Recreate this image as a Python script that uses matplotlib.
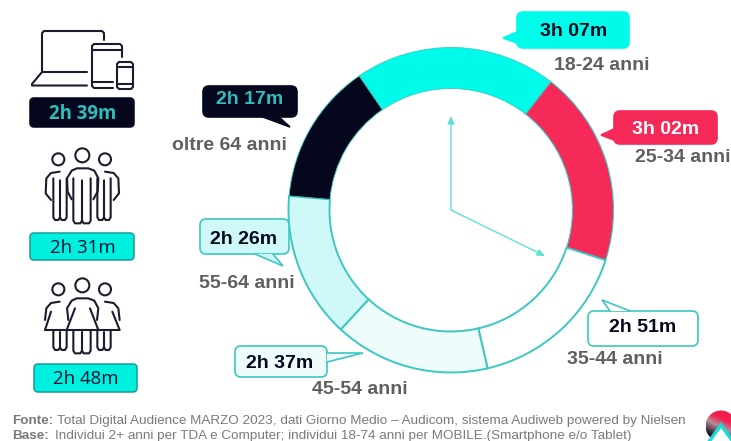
import matplotlib
matplotlib.use("Agg")

import matplotlib.pyplot as plt
import numpy as np
from matplotlib.patches import Circle, FancyBboxPatch, Polygon

W, H = 731, 441

# ring, clockwise from the cyan slice; spans are degrees
age_labels = ["18-24 anni", "25-34 anni", "35-44 anni", "45-54 anni", "55-64 anni", "oltre 64 anni"]
time_labels = ["3h 07m", "3h 02m", "2h 51m", "2h 37m", "2h 26m", "2h 17m"]
arc_spans = [72.3, 70.1, 59.0, 55.7, 52.3, 50.6]
ring_colors = ["#00FBEA", "#F52A58", "#FFFFFF", "#EEFCFC", "#CFF8F8", "#05081C"]

# left column
device_labels = ["2h 39m", "2h 31m", "2h 48m"]

TEAL = "#3CC8C0"
DARK = "#05081C"
GREY = "#5F5F5F"
ICON = "#1A1D2E"
FOOT = "#7A7A7A"


def Y(py):
    # picture rows run downwards, the axes upwards
    return H - py


fig = plt.figure(figsize=(W / 100, H / 100), dpi=100)
ax = fig.add_axes([0, 0, 1, 1])

wedges, _ = ax.pie(arc_spans, colors=ring_colors, center=(451, Y(210)), radius=162.5,
                   startangle=124.4, counterclock=False, frame=False,
                   wedgeprops=dict(width=41, edgecolor=TEAL, linewidth=1.4))
# the filled slices have hardly any visible outline on their straight sides
wedges[0].set_linewidth(0.6)
wedges[1].set_linewidth(0.8)
wedges[5].set_linewidth(0.6)
ax.set_xlim(0, W)
ax.set_ylim(0, H)
ax.set_aspect("equal")
ax.axis("off")


def label(x, y, s, **kw):
    kw.setdefault("family", "Liberation Sans")
    kw.setdefault("ha", "center")
    kw.setdefault("va", "center")
    ax.text(x, Y(y), s, **kw)


def callout(x0, y0, x1, y1, tail, face, edge):
    box = FancyBboxPatch((x0 + 5, Y(y1) + 5), x1 - x0 - 10, y1 - y0 - 10,
                         boxstyle="round,pad=5,rounding_size=6",
                         fc=face, ec=edge, lw=1.2, zorder=4)
    ax.add_patch(box)
    pts = [(x, Y(y)) for x, y in tail]
    ax.add_patch(Polygon(pts, closed=True, fc=face, ec="none", zorder=5))
    ax.plot([p[0] for p in pts], [p[1] for p in pts], color=edge, lw=1.2,
            solid_joinstyle="miter", zorder=5)


# clock hands
for tip in [(451, 116), (545, 256)]:
    ax.annotate("", xy=(tip[0], Y(tip[1])), xytext=(451, Y(210)),
                arrowprops=dict(arrowstyle="-|>,head_length=0.45,head_width=0.2",
                                color="#5FE0D8", lw=1.0, shrinkA=0, shrinkB=0))

# callouts, same order as the slices
callout(517, 12, 629, 48, [(517, 32), (503, 38), (517, 43)], "#00FBEA", "#00FBEA")
callout(614, 111, 717, 144, [(614, 129), (601, 135), (614, 140)], "#F52A58", "#F52A58")
callout(588, 311, 698, 346, [(630, 311), (602, 300), (610, 311)], "white", TEAL)
callout(235, 346, 327, 377, [(327, 353), (363, 353), (327, 362)], "#EEFCFC", TEAL)
callout(200, 219, 289, 254, [(255, 254), (283, 266), (273, 254)], "#CFF8F8", TEAL)
callout(203, 86, 297, 117, [(263, 117), (290, 127), (279, 117)], DARK, DARK)

time_pos = [(574, 32), (666, 129), (643, 327), (280, 364), (244, 239), (250, 99)]
time_cols = [DARK, "white", DARK, DARK, DARK, "#2FBDBD"]
age_pos = [(602, 66), (683, 158), (615, 359), (360, 390), (247, 283), (229, 146)]
for i in range(6):
    label(*time_pos[i], time_labels[i], fontsize=14, fontweight="bold",
          color=time_cols[i], zorder=6)
    label(*age_pos[i], age_labels[i], fontsize=14, fontweight="bold", color=GREY)

# left column boxes
for (x0, y0, x1, y1), s, face, edge, col, wt in [
        ((30, 98, 134, 127), device_labels[0], DARK, DARK, "#2FBDBD", "bold"),
        ((30, 233, 134, 260), device_labels[1], "#00F0E0", "#1F9A94", "#0A1030", "normal"),
        ((34, 364, 137, 392), device_labels[2], "#00F0E0", "#1F9A94", "#0A1030", "normal")]:
    ax.add_patch(FancyBboxPatch((x0 + 4, Y(y1) + 4), x1 - x0 - 8, y1 - y0 - 8,
                                boxstyle="round,pad=4,rounding_size=4",
                                fc=face, ec=edge, lw=1.1))
    label((x0 + x1) / 2 + 0.5, (y0 + y1) / 2 + 1.5, s, family="Open Sans", fontsize=13.4,
          fontweight=wt, color=col)


def icon_line(pts, ox=0, oy=0, s=1.0):
    xs = [ox + p[0] * s for p in pts]
    ys = [Y(oy + p[1] * s) for p in pts]
    ax.plot(xs, ys, color=ICON, lw=1.5, solid_capstyle="round", solid_joinstyle="round")


# devices icon
icon_line([(42, 71), (42, 33), (44, 31), (102, 31), (104, 33), (104, 40)])
icon_line([(87, 72), (42, 72), (32, 84), (32, 85.5), (87, 85.5)])
icon_line([(122, 57), (122, 46), (120, 44), (94, 44), (92, 46), (92, 86), (94, 88), (113, 88)])
icon_line([(92, 50), (122, 50)])
icon_line([(92, 82), (113, 82)])
icon_line([(119, 62), (131, 62), (133, 64), (133, 87), (131, 89), (119, 89), (117, 87), (117, 64), (119, 62)])
icon_line([(117, 67), (133, 67)])
icon_line([(117, 84), (133, 84)])


def heads(ox, oy):
    for cx, cy, r in [(100, 58, 18), (172, 46, 21), (240, 58, 18)]:
        ax.add_patch(Circle((ox + cx / 3, Y(oy + cy / 3)), r / 3, fc="none", ec=ICON, lw=1.5))


def legs(ox, oy, top):
    # U shaped legs of the three figures, in zoomed crop units
    for x in [(85, 105, 125), (145, 171, 197), (217, 237, 257)]:
        bot = 250 if x[0] == 145 else 240
        icon_line([(x[0], top), (x[0], bot - 8), (x[0] + 5, bot), (x[1] - 5, bot), (x[1], bot - 8), (x[1], top + 6)], ox, oy, 1 / 3)
        icon_line([(x[1], bot - 8), (x[1] + 5, bot), (x[2] - 5, bot), (x[2], bot - 8), (x[2], top)], ox, oy, 1 / 3)


# men
ox, oy = 25, 140
heads(ox, oy)
icon_line([(140, 178), (128, 155), (126, 115), (140, 92), (155, 85), (190, 85), (208, 92), (220, 115), (218, 155), (205, 178)], ox, oy, 1 / 3)
icon_line([(104, 95), (78, 99), (64, 115), (62, 160), (78, 180)], ox, oy, 1 / 3)
icon_line([(240, 95), (266, 99), (280, 115), (282, 160), (266, 180)], ox, oy, 1 / 3)
legs(ox, oy, 115)

# women
ox, oy = 25, 270
heads(ox, oy)
icon_line([(130, 150), (126, 115), (140, 92), (155, 85), (190, 85), (208, 92), (220, 115), (216, 150)], ox, oy, 1 / 3)
icon_line([(150, 115), (125, 180), (220, 180), (195, 115)], ox, oy, 1 / 3)
icon_line([(104, 95), (78, 99), (64, 115), (60, 150)], ox, oy, 1 / 3)
icon_line([(240, 95), (266, 99), (280, 115), (284, 150)], ox, oy, 1 / 3)
icon_line([(78, 125), (60, 180), (125, 180)], ox, oy, 1 / 3)
icon_line([(262, 125), (284, 180), (220, 180)], ox, oy, 1 / 3)
legs(ox, oy, 180)

# footnote
label(12, 421, "Fonte:", ha="left", fontsize=9.7, fontweight="bold", color=FOOT)
label(57, 421, "Total Digital Audience MARZO 2023, dati Giorno Medio – Audicom, sistema Audiweb powered by Nielsen",
      ha="left", fontsize=9.7, color=FOOT)
label(12, 436, "Base:", ha="left", fontsize=9.7, fontweight="bold", color=FOOT)
label(55, 436, "Individui 2+ anni per TDA e Computer; individui 18-74 anni per MOBILE.(Smartphone e/o Tablet)",
      ha="left", fontsize=9.7, color=FOOT)

# logo: red to black sweep inside a circle, teal triangle on top
gx, gy = np.meshgrid(np.linspace(-1, 1, 64), np.linspace(1, -1, 64))
sweep = np.clip((gy * 0.9 + gx * 0.45 + 0.9) / 1.8, 0, 1)[..., None]
red = np.array([0.95, 0.12, 0.30])
mid = np.array([0.72, 0.55, 0.60])
blk = np.array([0.03, 0.03, 0.10])
grad = np.where(sweep > 0.45, mid + (red - mid) * np.clip((sweep - 0.45) * 3.5, 0, 1),
                blk + (mid - blk) * sweep / 0.45)
img = ax.imshow(np.clip(grad, 0, 1), extent=(705.5, 736.5, Y(441.5), Y(410.5)),
                aspect="auto", interpolation="bilinear", zorder=3)
img.set_clip_path(Circle((721, Y(426)), 15.5, transform=ax.transData))
ax.add_patch(Polygon([(721, Y(425)), (708, Y(443)), (734, Y(443))], closed=True,
                     fc="white", ec="#19DAD4", lw=2.5, zorder=4, clip_on=True))
ax.set_xlim(0, W)
ax.set_ylim(0, H)

fig.savefig("out.png", dpi=100)
